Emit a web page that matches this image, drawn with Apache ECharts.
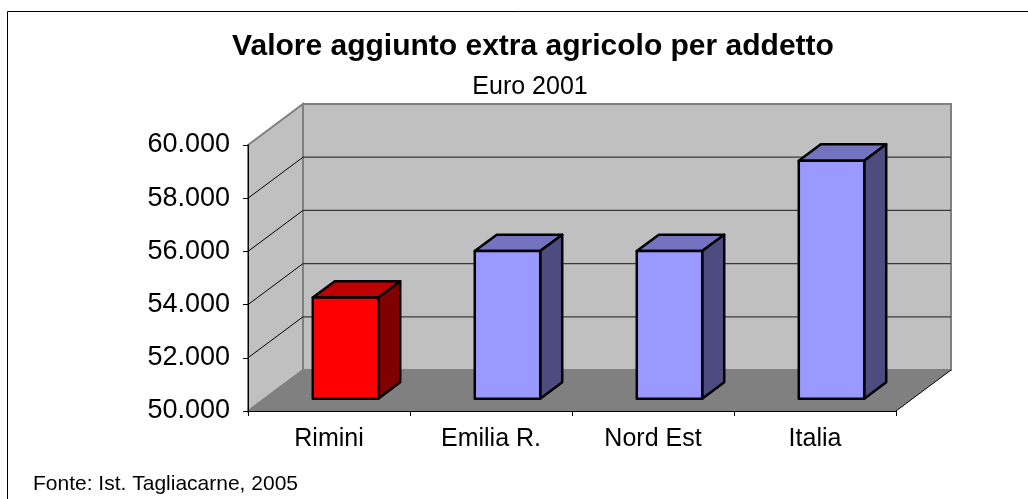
<!DOCTYPE html>
<html>
<head>
<meta charset="utf-8">
<script src="https://cdn.jsdelivr.net/npm/echarts@6/dist/echarts.min.js"></script>
<style>
	html, body { margin: 0; padding: 0; background: #fff; }
	#chart { width: 1028px; height: 499px; }
</style>
</head>
<body>
<div id="chart"></div>
<script>
// dati
var categories = ['Rimini', 'Emilia R.', 'Nord Est', 'Italia'];
var values = [53800, 55550, 55550, 58950];
var yTicks = [50000, 52000, 54000, 56000, 58000, 60000];

var FONT = '"Liberation Sans", Arial, sans-serif';
var DEPTH = [55, -41];   // spostamento prospettico parete di fondo
var BAR_F0 = 0.3, BAR_F1 = 0.7; // profondità delle colonne
var faceColors = [
	['#ff0000', '#c00000', '#800000'],
	['#9999ff', '#7373bf', '#4c4c80'],
	['#9999ff', '#7373bf', '#4c4c80'],
	['#9999ff', '#7373bf', '#4c4c80']
];

function fmt(v) {
	return String(v).replace(/\B(?=(\d{3})+(?!\d))/g, '.');
}

var chart = echarts.init(document.getElementById('chart'));

// pareti, pavimento e griglia
function renderWalls(params, api) {
	var cs = params.coordSys;
	var L = cs.x, T = cs.y, R = cs.x + cs.width, B = cs.y + cs.height;
	var dx = DEPTH[0], dy = DEPTH[1];
	var children = [
		{ type: 'polygon', shape: { points: [[L + dx, T + dy], [R + dx, T + dy], [R + dx, B + dy], [L + dx, B + dy]] },
			style: { fill: '#c0c0c0', stroke: '#808080', lineWidth: 2 } },
		{ type: 'polygon', shape: { points: [[L, T], [L + dx, T + dy], [L + dx, B + dy], [L, B]] },
			style: { fill: '#c0c0c0', stroke: '#808080', lineWidth: 2 } },
		{ type: 'polygon', shape: { points: [[L, B], [L + dx, B + dy], [R + dx, B + dy], [R, B]] },
			style: { fill: '#808080' } },
		{ type: 'line', shape: { x1: R, y1: B, x2: R + dx, y2: B + dy },
			style: { stroke: '#000', lineWidth: 1 } }
	];
	for (var k = 1; k < yTicks.length - 1; k++) {
		var y = api.coord([0, yTicks[k]])[1];
		children.push({ type: 'line', shape: { x1: L + dx, y1: y + dy, x2: R + dx, y2: y + dy },
			style: { stroke: '#3a3a3a', lineWidth: 1.2 } });
		children.push({ type: 'line', shape: { x1: L, y1: y, x2: L + dx, y2: y + dy },
			style: { stroke: '#000', lineWidth: 1 } });
	}
	return { type: 'group', children: children };
}

// colonne 3D
function renderBar(params, api) {
	var i = api.value(0);
	var top = api.coord([i, api.value(1)]);
	var base = api.coord([i, yTicks[0]]);
	var band = api.size([1, 0])[0];
	var w = band * 0.404;
	var ox = DEPTH[0] * BAR_F0, oy = DEPTH[1] * BAR_F0;
	var ddx = DEPTH[0] * (BAR_F1 - BAR_F0), ddy = DEPTH[1] * (BAR_F1 - BAR_F0);
	var x0 = top[0] - w / 2 + ox, x1 = x0 + w;
	var yT = top[1] + oy, yB = base[1] + oy;
	var c = faceColors[params.dataIndex];
	var edge = { stroke: '#000', lineWidth: 2.5, lineJoin: 'round' };
	return {
		type: 'group',
		children: [
			{ type: 'polygon', shape: { points: [[x0, yT], [x1, yT], [x1 + ddx, yT + ddy], [x0 + ddx, yT + ddy]] },
				style: Object.assign({ fill: c[1] }, edge) },
			{ type: 'polygon', shape: { points: [[x1, yT], [x1 + ddx, yT + ddy], [x1 + ddx, yB + ddy], [x1, yB]] },
				style: Object.assign({ fill: c[2] }, edge) },
			{ type: 'rect', shape: { x: x0, y: yT, width: w, height: yB - yT },
				style: Object.assign({ fill: c[0] }, edge) }
		]
	};
}

chart.setOption({
	animation: false,
	title: [
		{ text: 'Valore aggiunto extra agricolo per addetto', left: 533, top: 32, textAlign: 'center', padding: 0,
			textStyle: { fontFamily: FONT, fontSize: 30, fontWeight: 'bold', color: '#000' } },
		{ text: 'Euro 2001', left: 530, top: 75, textAlign: 'center', padding: 0,
			textStyle: { fontFamily: FONT, fontSize: 25, fontWeight: 'normal', color: '#000' } },
		{ text: 'Fonte: Ist. Tagliacarne, 2005', left: 33, top: 474, padding: 0,
			textStyle: { fontFamily: FONT, fontSize: 21, fontWeight: 'normal', color: '#000' } }
	],
	graphic: [
		{ type: 'rect', shape: { x: 7.5, y: 11.5, width: 1100, height: 600 },
			style: { fill: 'none', stroke: '#000', lineWidth: 1 }, z: -10 }
	],
	grid: { left: 248, top: 145, width: 648, height: 266 },
	xAxis: {
		type: 'category',
		data: categories,
		z: 10,
		axisLine: { lineStyle: { color: '#000', width: 1 } },
		axisTick: { show: true, length: 5, lineStyle: { color: '#000' } },
		axisLabel: { fontFamily: FONT, fontSize: 25, color: '#000', margin: 16 }
	},
	yAxis: {
		type: 'value',
		min: yTicks[0],
		max: yTicks[yTicks.length - 1],
		interval: yTicks[1] - yTicks[0],
		z: 10,
		axisLine: { show: true, lineStyle: { color: '#000', width: 1 } },
		axisTick: { show: true, length: 5, lineStyle: { color: '#000' } },
		splitLine: { show: false },
		axisLabel: { fontFamily: FONT, fontSize: 27, color: '#000', margin: 18, formatter: fmt }
	},
	series: [
		{
			type: 'custom',
			z: 1,
			silent: true,
			renderItem: renderWalls,
			data: [[0, yTicks[0]]]
		},
		{
			type: 'custom',
			z: 3,
			renderItem: renderBar,
			encode: { x: 0, y: 1 },
			data: categories.map(function(c, i) { return [i, values[i]]; })
		}
	]
});
</script>
</body>
</html>
